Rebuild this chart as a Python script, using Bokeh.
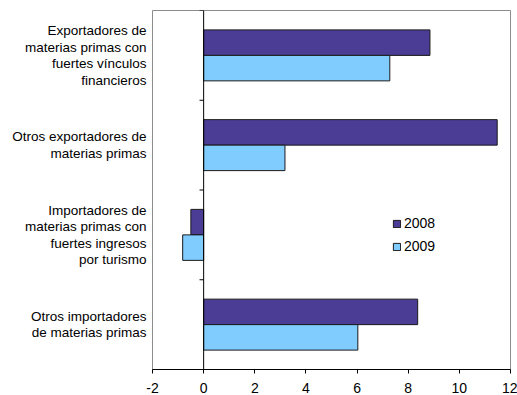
from bokeh.plotting import figure
from bokeh.models import Range1d, FixedTicker, Span, Legend, LegendItem, ColumnDataSource
from bokeh.embed import file_html
from bokeh.resources import INLINE

categories = [
    "Exportadores de\nmaterias primas con\nfuertes vínculos\nfinancieros",
    "Otros exportadores de\nmaterias primas",
    "Importadores de\nmaterias primas con\nfuertes ingresos\npor turismo",
    "Otros importadores\nde materias primas",
]
series_2008 = [8.85, 11.48, -0.5, 8.37]
series_2009 = [7.28, 3.18, -0.82, 6.03]
years = ["2008", "2009"]
x_ticks = [-2, 0, 2, 4, 6, 8, 10, 12]

n = len(categories)
centers = [n - i - 0.5 for i in range(n)]
bar_h = 0.284

FONT = "Liberation Sans"

p = figure(width=517, height=395, output_backend="svg", toolbar_location=None,
           x_range=Range1d(-2, 12), y_range=Range1d(0, n),
           min_border_left=152, min_border_right=7, min_border_top=10, min_border_bottom=26)
p.frame_width = 358
p.frame_height = 359
p.xgrid.visible = False
p.ygrid.visible = False
p.outline_line_color = "#8c8c8c"
p.background_fill_color = "white"
p.border_fill_color = "white"

src08 = ColumnDataSource(dict(y=[c + bar_h / 2 for c in centers], right=series_2008))
src09 = ColumnDataSource(dict(y=[c - bar_h / 2 for c in centers], right=series_2009))
r08 = p.hbar(y="y", right="right", left=0, height=bar_h, source=src08,
             fill_color="#4B3D96", line_color="#1a1a1a", line_width=1)
r09 = p.hbar(y="y", right="right", left=0, height=bar_h, source=src09,
             fill_color="#80CCFF", line_color="#1a1a1a", line_width=1)

# vertical zero line with category boundary ticks
p.add_layout(Span(location=0, dimension="height", line_color="black", line_width=1))
bounds = list(range(1, n + 1))
p.segment(x0=[-0.16] * len(bounds), x1=[0] * len(bounds), y0=bounds, y1=bounds,
          line_color="black", line_width=1)

# x axis
xa = p.xaxis[0]
xa.ticker = FixedTicker(ticks=x_ticks)
xa.major_label_overrides = {t: str(t) for t in x_ticks}
xa.minor_tick_line_color = None
xa.major_tick_in = 0
xa.major_tick_out = 4
xa.axis_line_color = "black"
xa.major_tick_line_color = "black"
xa.major_label_standoff = 9
xa.major_label_text_font = FONT
xa.major_label_text_font_size = "14px"
xa.major_label_text_color = "black"

# y axis (category labels)
ya = p.yaxis[0]
ya.ticker = FixedTicker(ticks=centers)
ya.major_label_overrides = {c: lab for c, lab in zip(centers, categories)}
ya.axis_line_color = None
ya.major_tick_line_color = None
ya.minor_tick_line_color = None
ya.major_tick_in = 0
ya.major_tick_out = 0
ya.major_label_standoff = 6
ya.major_label_text_font = FONT
ya.major_label_text_font_size = "13.5px"
ya.major_label_text_line_height = 1.1
ya.major_label_text_color = "black"
ya.major_label_text_align = "right"

legend = Legend(items=[LegendItem(label=years[0], renderers=[r08]),
                       LegendItem(label=years[1], renderers=[r09])],
                location=(240, 115), padding=0, margin=0, spacing=7,
                glyph_width=9, glyph_height=9, label_height=16, label_standoff=3,
                label_text_font=FONT, label_text_font_size="14px", label_text_color="black",
                border_line_color=None, background_fill_alpha=0)
p.add_layout(legend)

open("out.html", "w").write(file_html(p, INLINE))
